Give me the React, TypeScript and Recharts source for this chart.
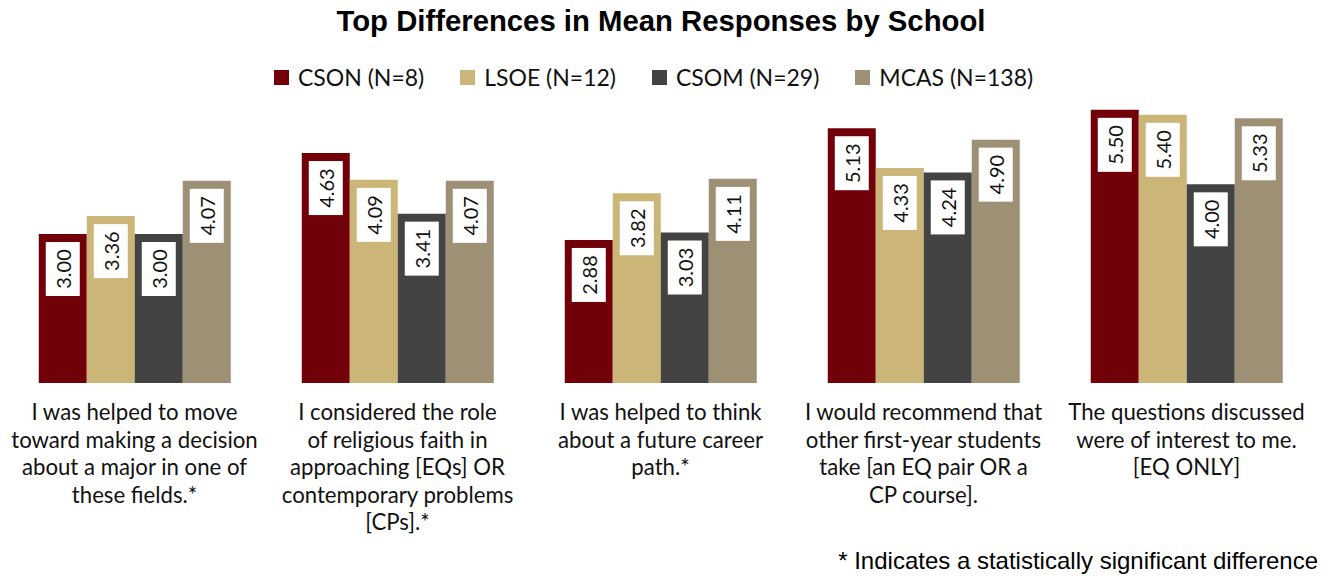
import React from "react";
import { BarChart, Bar, XAxis, YAxis, LabelList } from "recharts";

const categories = ["Q1", "Q2", "Q3", "Q4", "Q5"];
const categoryLines: string[][] = [
  ["I was helped to move", "toward making a decision", "about a major in one of", "these fields.*"],
  ["I considered the role", "of religious faith in", "approaching [EQs] OR", "contemporary problems", "[CPs].*"],
  ["I was helped to think", "about a future career", "path.*"],
  ["I would recommend that", "other first-year students", "take [an EQ pair OR a", "CP course]."],
  ["The questions discussed", "were of interest to me.", "[EQ ONLY]"],
];
const cson = [3.0, 4.63, 2.88, 5.13, 5.5];
const lsoe = [3.36, 4.09, 3.82, 4.33, 5.4];
const csom = [3.0, 3.41, 3.03, 4.24, 4.0];
const mcas = [4.07, 4.07, 4.11, 4.9, 5.33];

const seriesNames = ["CSON (N=8)", "LSOE (N=12)", "CSOM (N=29)", "MCAS (N=138)"];
const seriesKeys = ["cson", "lsoe", "csom", "mcas"];
const seriesColors = ["#720008", "#CBB677", "#434343", "#9E9075"];

const data = categories.map((c, i) => ({
  category: c,
  cson: cson[i],
  lsoe: lsoe[i],
  csom: csom[i],
  mcas: mcas[i],
}));

const BODY_FONT = "Lato, 'Open Sans', sans-serif";
const ARIAL = "'Liberation Sans', Arial, sans-serif";

const ValueLabel = (props: any) => {
  const { x, y, width, value } = props;
  const cx = x + width / 2;
  const bw = 34;
  const bh = 54;
  const top = y + 8;
  return (
    <g>
      <rect x={cx - bw / 2} y={top} width={bw} height={bh} fill="#ffffff" />
      <text
        x={cx}
        y={top + bh / 2}
        transform={`rotate(-90 ${cx} ${top + bh / 2})`}
        textAnchor="middle"
        dominantBaseline="central"
        fontFamily={BODY_FONT}
        fontSize={20}
        fill="#111"
      >
        {Number(value).toFixed(2)}
      </text>
    </g>
  );
};

const CategoryTick = (props: any) => {
  const { x, y, payload } = props;
  const idx = categories.indexOf(payload.value);
  const lines = idx >= 0 ? categoryLines[idx] : [];
  return (
    <g>
      {lines.map((l, i) => (
        <text
          key={i}
          x={x}
          y={y + 29 + i * 27.6}
          textAnchor="middle"
          fontFamily={BODY_FONT}
          fontSize={22.2}
          fill="#111"
        >
          {l}
        </text>
      ))}
    </g>
  );
};

export default function App() {
  return (
    <div style={{ position: "absolute", left: 0, top: 0, width: 1335, height: 578, background: "#fff" }}>
      <div
        style={{
          position: "absolute",
          left: 0,
          top: 4,
          width: 1322,
          textAlign: "center",
          fontFamily: ARIAL,
          fontWeight: "bold",
          fontSize: 29.3,
          color: "#000",
          lineHeight: "34px",
        }}
      >
        Top Differences in Mean Responses by School
      </div>
      <div
        style={{
          position: "absolute",
          left: 274,
          top: 62,
          height: 30,
          display: "flex",
          alignItems: "center",
          fontFamily: BODY_FONT,
          fontSize: 23,
          color: "#111",
        }}
      >
        {seriesNames.map((n, i) => (
          <div key={n} style={{ display: "flex", alignItems: "center", marginRight: i < 3 ? 36 : 0 }}>
            <span style={{ display: "inline-block", width: 15, height: 15, background: seriesColors[i], marginRight: 9 }} />
            <span>{n}</span>
          </div>
        ))}
      </div>
      <div style={{ position: "absolute", left: 0, top: 0 }}>
        <BarChart
          width={1335}
          height={578}
          data={data}
          margin={{ top: 85, right: 17, bottom: 45, left: 3 }}
          barCategoryGap="13.6%"
          barGap={0}
        >
          <XAxis
            dataKey="category"
            height={150}
            axisLine={false}
            tickLine={false}
            tick={<CategoryTick />}
            interval={0}
          />
          <YAxis hide domain={[0, 6]} />
          {seriesKeys.map((k, i) => (
            <Bar key={k} dataKey={k} name={seriesNames[i]} fill={seriesColors[i]} isAnimationActive={false}>
              <LabelList dataKey={k} content={<ValueLabel />} />
            </Bar>
          ))}
        </BarChart>
      </div>
      <div
        style={{
          position: "absolute",
          right: 17,
          top: 547,
          fontFamily: ARIAL,
          fontSize: 24,
          color: "#000",
        }}
      >
        * Indicates a statistically significant difference
      </div>
    </div>
  );
}
